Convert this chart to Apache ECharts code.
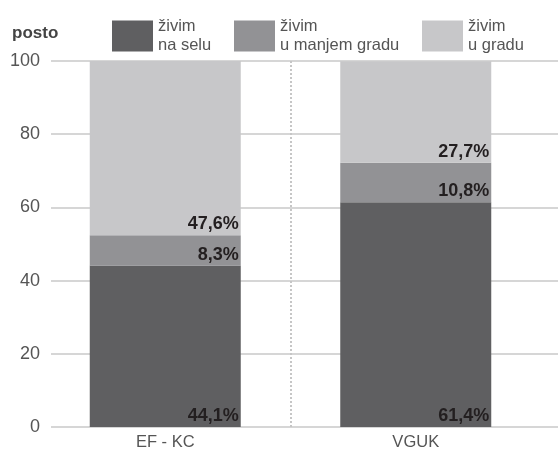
<!DOCTYPE html>
<html>
<head>
<meta charset="utf-8">
<script src="https://cdn.jsdelivr.net/npm/echarts@6/dist/echarts.min.js"></script>
<style>
html,body{margin:0;padding:0;background:#fff;}
#c{width:558px;height:452px;}
</style>
</head>
<body>
<div id="c"></div>
<script>
var categories = ['EF - KC', 'VGUK'];
var seriesNames = ['živim\nna selu', 'živim\nu manjem gradu', 'živim\nu gradu'];
var naSelu = [44.1, 61.4];
var manjiGrad = [8.3, 10.8];
var grad = [47.6, 27.7];
var yTicks = { min: 0, max: 100, interval: 20 };
var colors = ['#5f5f61', '#929295', '#c7c7c9'];

var FONT = '"Liberation Sans", Arial, sans-serif';
var chart = echarts.init(document.getElementById('c'), null, { renderer: 'canvas' });

function fmt(p) { return p.value.toFixed(1).replace('.', ',') + '%'; }

var labelCfg = {
  show: true,
  position: 'insideBottomRight',
  distance: 2,
  formatter: fmt,
  fontFamily: FONT,
  fontWeight: 'bold',
  fontSize: 18,
  lineHeight: 18,
  color: '#231f20'
};

function mkSeries(name, data, i) {
  return {
    name: name,
    type: 'bar',
    stack: 'all',
    xAxisIndex: 0,
    yAxisIndex: 0,
    barWidth: 151,
    data: data,
    itemStyle: { color: colors[i] },
    label: labelCfg,
    emphasis: { disabled: true },
    z: 3
  };
}

function mkLegend(name, left) {
  return {
    data: [{ name: name, icon: 'rect' }],
    left: left,
    top: 12,
    itemWidth: 41,
    itemHeight: 31,
    selectedMode: false,
    textStyle: { fontFamily: FONT, fontSize: 16.5, lineHeight: 19, color: '#555' }
  };
}

chart.setOption({
  animation: false,
  title: {
    text: 'posto',
    left: 7,
    top: 20,
    textStyle: { fontFamily: FONT, fontSize: 17, fontWeight: 'bold', color: '#444' }
  },
  legend: [
    mkLegend(seriesNames[0], 107),
    mkLegend(seriesNames[1], 229),
    mkLegend(seriesNames[2], 417)
  ],
  grid: [
    { left: 40, right: 17, top: 61, bottom: 25 },
    { left: 51, right: 0, top: 61, bottom: 25 }
  ],
  xAxis: [
    {
      gridIndex: 0,
      type: 'category',
      data: categories,
      boundaryGap: true,
      axisLine: { show: false },
      axisTick: { show: false },
      axisLabel: { fontFamily: FONT, fontSize: 16.5, color: '#555', margin: 7 },
      splitLine: {
        show: true,
        showMinLine: false,
        showMaxLine: false,
        lineStyle: { color: '#c6c6c6', width: 2, type: [2, 2] }
      },
      z: 1
    },
    {
      gridIndex: 1,
      type: 'value',
      show: false
    }
  ],
  yAxis: [
    {
      gridIndex: 0,
      type: 'value',
      min: yTicks.min, max: yTicks.max, interval: yTicks.interval,
      show: false
    },
    {
      gridIndex: 1,
      type: 'value',
      min: yTicks.min, max: yTicks.max, interval: yTicks.interval,
      axisLine: { show: false },
      axisTick: { show: false },
      axisLabel: { fontFamily: FONT, fontSize: 18, color: '#555', margin: 11 },
      splitLine: { show: true, lineStyle: { color: '#c8c8c8', width: 1.5 } },
      z: 0
    }
  ],
  series: [
    mkSeries(seriesNames[0], naSelu, 0),
    mkSeries(seriesNames[1], manjiGrad, 1),
    mkSeries(seriesNames[2], grad, 2)
  ]
});
</script>
</body>
</html>
